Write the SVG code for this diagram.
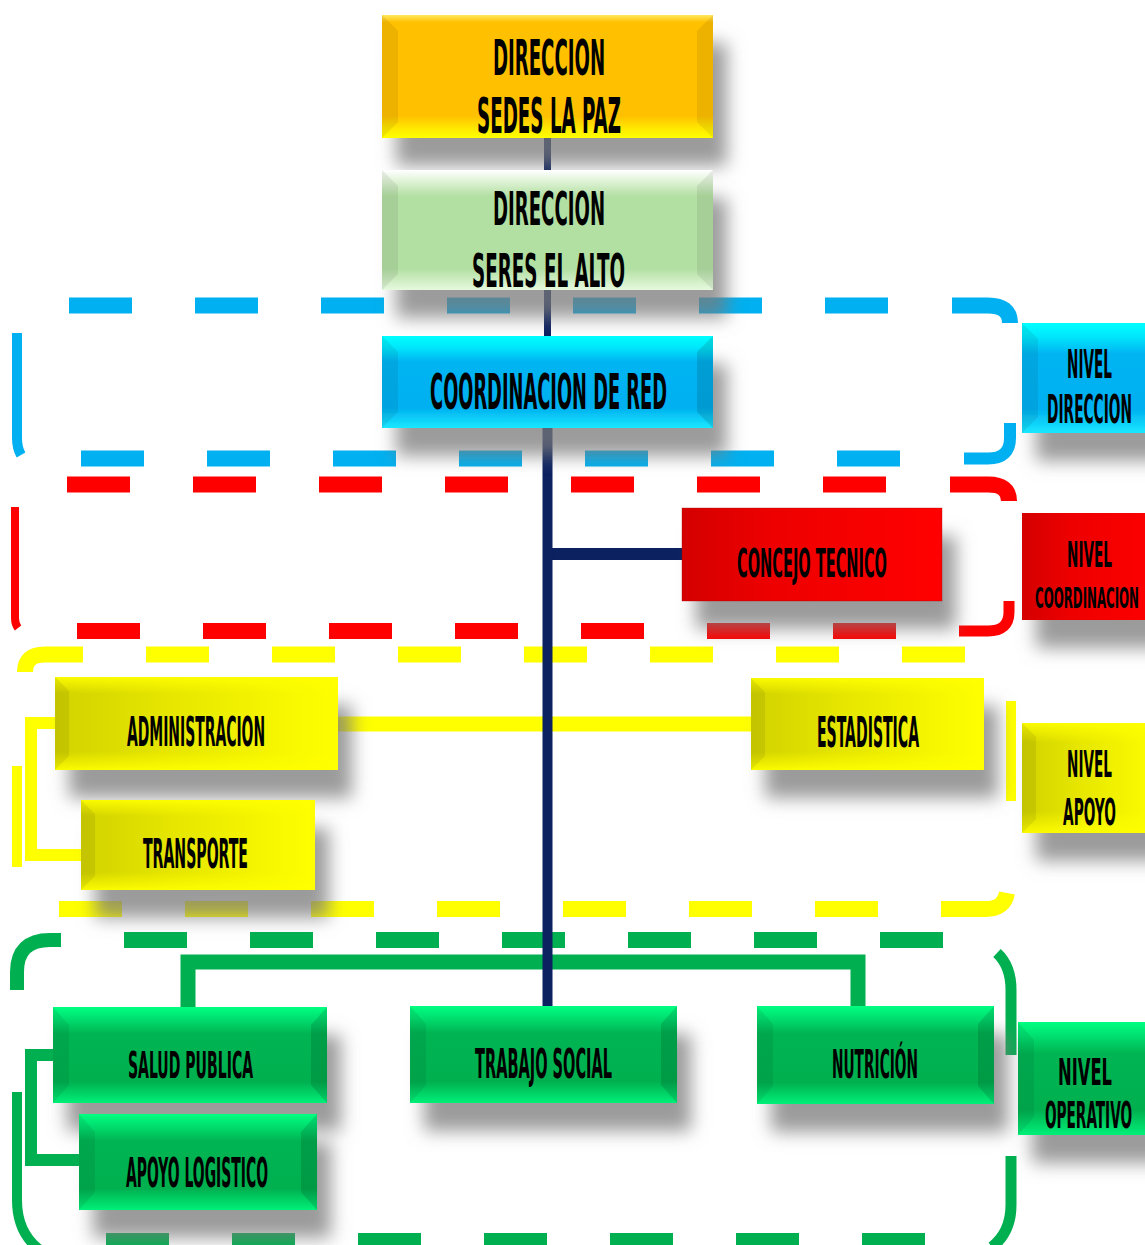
<svg xmlns="http://www.w3.org/2000/svg" width="1145" height="1245" viewBox="0 0 1145 1245">
<style>
.t{font-family:'DejaVu Sans Condensed','Liberation Sans Narrow','Liberation Sans',sans-serif;font-weight:bold;fill:#000;text-anchor:middle;}
.fr{fill:none;stroke-linecap:butt;}
.db{stroke:#00B0F0;}
.dr{stroke:#FF0000;}
.dy{stroke:#FFFF00;}
.dg{stroke:#00B050;}
.da{stroke-dasharray:63 63;}
.bl{fill:#000;opacity:.07;}
.br{fill:#000;opacity:.12;}
</style>
<defs>
<filter id="sh" x="-20%" y="-30%" width="150%" height="190%">
<feDropShadow dx="14" dy="28" stdDeviation="9" flood-color="#7a7a7a" flood-opacity="0.75"/>
</filter>
<linearGradient id="gO" x1="0" y1="0" x2="0" y2="1">
<stop offset="0" stop-color="#FFE860"/><stop offset="0.06" stop-color="#FFC000"/><stop offset="0.82" stop-color="#FFC000"/><stop offset="0.92" stop-color="#FFE800"/><stop offset="1" stop-color="#FFFF00"/>
</linearGradient>
<linearGradient id="gL" x1="0" y1="0" x2="0" y2="1">
<stop offset="0" stop-color="#FFFFFF"/><stop offset="0.08" stop-color="#E4F5DC"/><stop offset="0.22" stop-color="#B2DFA2"/><stop offset="0.82" stop-color="#B2DFA2"/><stop offset="1" stop-color="#E6F9DE"/>
</linearGradient>
<linearGradient id="gC" x1="0" y1="0" x2="0" y2="1">
<stop offset="0" stop-color="#00FFFF"/><stop offset="0.12" stop-color="#00E8FC"/><stop offset="0.28" stop-color="#00B4F2"/><stop offset="0.78" stop-color="#00B0F0"/><stop offset="1" stop-color="#18E8FF"/>
</linearGradient>
<linearGradient id="gR" x1="0" y1="0" x2="1" y2="0">
<stop offset="0" stop-color="#D40000"/><stop offset="0.35" stop-color="#EE0000"/><stop offset="1" stop-color="#FF0000"/>
</linearGradient>
<linearGradient id="gY" x1="0" y1="0" x2="1" y2="0">
<stop offset="0" stop-color="#D2D200"/><stop offset="0.4" stop-color="#E6E600"/><stop offset="1" stop-color="#FFFF00"/>
</linearGradient>
<linearGradient id="gYv" x1="0" y1="0" x2="0" y2="1">
<stop offset="0" stop-color="#FFFF00" stop-opacity="0.9"/><stop offset="0.18" stop-color="#FFFF00" stop-opacity="0"/><stop offset="0.8" stop-color="#FFFF00" stop-opacity="0"/><stop offset="1" stop-color="#FFFF00" stop-opacity="0.9"/>
</linearGradient>
<linearGradient id="gG" x1="0" y1="0" x2="0" y2="1">
<stop offset="0" stop-color="#00FF80"/><stop offset="0.12" stop-color="#00E070"/><stop offset="0.28" stop-color="#00B452"/><stop offset="0.78" stop-color="#00B050"/><stop offset="1" stop-color="#00F078"/>
</linearGradient>
</defs>
<rect width="1145" height="1245" fill="#FFFFFF"/>

<g id="frames">
<g id="frame-direccion">
<path class="fr db da" stroke-width="16" d="M69 305.5 H950"/>
<path class="fr db" stroke-width="16" d="M952 305.5 H988 Q1010 305.5 1010 323"/>
<path class="fr db" stroke-width="12" d="M1010 423 V438 Q1010 458.5 988 458.5 H964"/>
<path class="fr db da" stroke-width="16" d="M81 458.5 H902"/>
<path class="fr db" stroke-width="10" d="M17 333 V438 Q17 448 21 455"/>
</g>
<g id="frame-coordinacion">
<path class="fr dr da" stroke-width="16" d="M67 484.5 H948"/>
<path class="fr dr" stroke-width="16" d="M950 484.5 H988 Q1009 484.5 1009 501"/>
<path class="fr dr" stroke-width="11" d="M1009 601 V612 Q1009 631 988 631 H959"/>
<path class="fr dr da" stroke-width="16" d="M77 631 H898"/>
<path class="fr dr" stroke-width="8" d="M15 507 V618 Q15 624 18 628"/>
</g>
<g id="frame-apoyo">
<path class="fr dy" stroke-width="16" d="M25 672 Q25 654.5 45 654.5 H83"/>
<path class="fr dy da" stroke-width="16" d="M146 654.5 H966"/>
<path class="fr dy" stroke-width="10" d="M1011 701 V801"/>
<path class="fr dy" stroke-width="16" d="M941 909 H986 Q1004 909 1007 893"/>
<path class="fr dy da" stroke-width="16" d="M59 909 H880"/>
<path class="fr dy" stroke-width="10" d="M17 766 V867"/>
</g>
<g id="frame-operativo">
<path class="fr dg" stroke-width="14" d="M17 990 V972 Q17 940 50 940 H61"/>
<path class="fr dg da" stroke-width="16" d="M124 940 H946"/>
<path class="fr dg" stroke-width="11" d="M997 953 Q1011 966 1011 990 V1055"/>
<path class="fr dg" stroke-width="11" d="M1011 1156 V1205 Q1011 1232 992 1247"/>
<path class="fr dg da" stroke-width="16" d="M106 1241 H930"/>
<path class="fr dg" stroke-width="10" d="M17 1092 V1200 Q17 1235 43 1252"/>
</g>
</g>

<g id="connectors" fill="none">
<path stroke="#FFFF00" stroke-width="15" d="M338 724 H751"/>
<path stroke="#FFFF00" stroke-width="12" d="M55 723 H31 V855 H81"/>
<path stroke="#00B050" stroke-width="15" d="M188 1007 V962 H858 V1007"/>
<path stroke="#00B050" stroke-width="12" d="M53 1055 H31 V1160 H79"/>
<path stroke="#0B2160" stroke-width="7" d="M547.5 136 V172"/>
<path stroke="#0B2160" stroke-width="7" d="M547.5 288 V338"/>
<path stroke="#0B2160" stroke-width="12" d="M547 554 H684"/>
<path stroke="#0B2160" stroke-width="10" d="M547.5 426 V1007"/>
</g>

<g id="n-sedes">
<rect x="382" y="15" width="331" height="123" fill="url(#gO)" filter="url(#sh)"/>
<path class="bl" d="M382 15 l16 16 v91 l-16 16 z"/><path class="bl" d="M713 15 l-16 16 v91 l16 16 z"/>
<text class="t" transform="translate(549 75) scale(0.42 1)" font-size="50" textLength="267" lengthAdjust="spacingAndGlyphs">DIRECCION</text>
<text class="t" transform="translate(549 133) scale(0.42 1)" font-size="50" textLength="343" lengthAdjust="spacingAndGlyphs">SEDES LA PAZ</text>
</g>
<g id="n-seres">
<rect x="382" y="170" width="331" height="120" fill="url(#gL)" filter="url(#sh)"/>
<path class="bl" d="M382 170 l16 16 v88 l-16 16 z"/><path class="bl" d="M713 170 l-16 16 v88 l16 16 z"/>
<text class="t" transform="translate(549 225) scale(0.42 1)" font-size="46" textLength="267" lengthAdjust="spacingAndGlyphs">DIRECCION</text>
<text class="t" transform="translate(548.5 287) scale(0.42 1)" font-size="47" textLength="364" lengthAdjust="spacingAndGlyphs">SERES EL ALTO</text>
</g>
<g id="n-coordinacion-red">
<rect x="382" y="336" width="331" height="92" fill="url(#gC)" filter="url(#sh)"/>
<path class="bl" d="M382 336 l16 16 v60 l-16 16 z"/><path class="br" d="M713 336 l-16 16 v60 l16 16 z"/>
<text class="t" transform="translate(548.5 409) scale(0.42 1)" font-size="50" textLength="564" lengthAdjust="spacingAndGlyphs">COORDINACION DE RED</text>
</g>
<g id="n-nivel-direccion">
<rect x="1022" y="323" width="140" height="110" fill="url(#gC)" filter="url(#sh)"/>
<path class="bl" d="M1022 323 l16 16 v78 l-16 16 z"/>
<text class="t" transform="translate(1089.5 378) scale(0.4 1)" font-size="39" textLength="112" lengthAdjust="spacingAndGlyphs">NIVEL</text>
<text class="t" transform="translate(1089.5 423) scale(0.4 1)" font-size="39" textLength="212" lengthAdjust="spacingAndGlyphs">DIRECCION</text>
</g>
<g id="n-concejo">
<rect x="682" y="508" width="260" height="93" fill="url(#gR)" filter="url(#sh)"/>
<rect x="682" y="508" width="260" height="93" fill="none" stroke="#B00000" stroke-opacity=".35" stroke-width="1"/>
<text class="t" transform="translate(812 577) scale(0.42 1)" font-size="39" textLength="357" lengthAdjust="spacingAndGlyphs">CONCEJO TECNICO</text>
</g>
<g id="n-nivel-coordinacion">
<rect x="1022" y="513" width="140" height="107" fill="url(#gR)" filter="url(#sh)"/>
<text class="t" transform="translate(1089.5 567) scale(0.4 1)" font-size="36" textLength="112" lengthAdjust="spacingAndGlyphs">NIVEL</text>
<text class="t" transform="translate(1087 608) scale(0.4 1)" font-size="29" textLength="260" lengthAdjust="spacingAndGlyphs">COORDINACION</text>
</g>
<g id="n-administracion">
<rect x="55" y="677" width="283" height="93" fill="url(#gY)" filter="url(#sh)"/>
<rect x="55" y="677" width="283" height="93" fill="url(#gYv)"/>
<path class="bl" d="M55 677 l14 14 v65 l-14 14 z"/>
<text class="t" transform="translate(196 746) scale(0.42 1)" font-size="40" textLength="329" lengthAdjust="spacingAndGlyphs">ADMINISTRACION</text>
</g>
<g id="n-transporte">
<rect x="81" y="800" width="234" height="90" fill="url(#gY)" filter="url(#sh)"/>
<rect x="81" y="800" width="234" height="90" fill="url(#gYv)"/>
<path class="bl" d="M81 800 l14 14 v62 l-14 14 z"/>
<text class="t" transform="translate(195.5 868) scale(0.42 1)" font-size="40" textLength="250" lengthAdjust="spacingAndGlyphs">TRANSPORTE</text>
</g>
<g id="n-estadistica">
<rect x="751" y="678" width="233" height="92" fill="url(#gY)" filter="url(#sh)"/>
<rect x="751" y="678" width="233" height="92" fill="url(#gYv)"/>
<path class="bl" d="M751 678 l14 14 v64 l-14 14 z"/>
<text class="t" transform="translate(868 747) scale(0.42 1)" font-size="42" textLength="243" lengthAdjust="spacingAndGlyphs">ESTADISTICA</text>
</g>
<g id="n-nivel-apoyo">
<rect x="1022" y="723" width="140" height="110" fill="url(#gY)" filter="url(#sh)"/>
<rect x="1022" y="723" width="140" height="110" fill="url(#gYv)"/>
<path class="bl" d="M1022 723 l14 14 v82 l-14 14 z"/>
<text class="t" transform="translate(1089.5 777) scale(0.4 1)" font-size="37" textLength="112" lengthAdjust="spacingAndGlyphs">NIVEL</text>
<text class="t" transform="translate(1089.5 825) scale(0.4 1)" font-size="38" textLength="132" lengthAdjust="spacingAndGlyphs">APOYO</text>
</g>
<g id="n-salud">
<rect x="53" y="1007" width="274" height="96" fill="url(#gG)" filter="url(#sh)"/>
<path class="bl" d="M53 1007 l16 18 v60 l-16 18 z"/><path class="br" d="M327 1007 l-16 18 v60 l16 18 z"/>
<text class="t" transform="translate(190.5 1078) scale(0.42 1)" font-size="38" textLength="298" lengthAdjust="spacingAndGlyphs">SALUD PUBLICA</text>
</g>
<g id="n-apoyo-logistico">
<rect x="79" y="1114" width="238" height="96" fill="url(#gG)" filter="url(#sh)"/>
<path class="bl" d="M79 1114 l16 18 v60 l-16 18 z"/><path class="br" d="M317 1114 l-16 18 v60 l16 18 z"/>
<text class="t" transform="translate(197 1187) scale(0.42 1)" font-size="41" textLength="338" lengthAdjust="spacingAndGlyphs">APOYO LOGISTICO</text>
</g>
<g id="n-trabajo-social">
<rect x="410" y="1006" width="267" height="97" fill="url(#gG)" filter="url(#sh)"/>
<path class="bl" d="M410 1006 l16 18 v61 l-16 18 z"/><path class="br" d="M677 1006 l-16 18 v61 l16 18 z"/>
<text class="t" transform="translate(543.5 1078) scale(0.42 1)" font-size="41" textLength="326" lengthAdjust="spacingAndGlyphs">TRABAJO SOCIAL</text>
</g>
<g id="n-nutricion">
<rect x="757" y="1006" width="237" height="98" fill="url(#gG)" filter="url(#sh)"/>
<path class="bl" d="M757 1006 l16 18 v62 l-16 18 z"/><path class="br" d="M994 1006 l-16 18 v62 l16 18 z"/>
<text class="t" transform="translate(875 1078) scale(0.42 1)" font-size="39" textLength="205" lengthAdjust="spacingAndGlyphs">NUTRICIÓN</text>
</g>
<g id="n-nivel-operativo">
<rect x="1018" y="1022" width="140" height="113" fill="url(#gG)" filter="url(#sh)"/>
<path class="bl" d="M1018 1022 l16 18 v77 l-16 18 z"/>
<text class="t" transform="translate(1085 1085) scale(0.4 1)" font-size="38" textLength="135" lengthAdjust="spacingAndGlyphs">NIVEL</text>
<text class="t" transform="translate(1088.5 1128) scale(0.4 1)" font-size="38" textLength="218" lengthAdjust="spacingAndGlyphs">OPERATIVO</text>
</g>
</svg>
